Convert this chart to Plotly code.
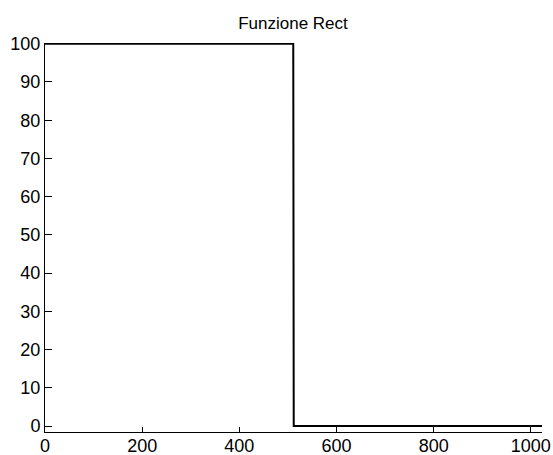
import plotly.graph_objects as go

# Rect function breakpoints (1024 samples: 100 for first half, 0 for second half)
x_vals = [0, 511, 512, 1023]
y_vals = [100, 100, 0, 0]
x_ticks = [0, 200, 400, 600, 800, 1000]
y_ticks = [0, 10, 20, 30, 40, 50, 60, 70, 80, 90, 100]
title_text = "Funzione Rect"

fig = go.Figure()
fig.add_trace(go.Scatter(x=x_vals, y=y_vals, mode="lines",
                         line=dict(color="black", width=2), showlegend=False,
                         hoverinfo="skip", cliponaxis=False))

font = dict(family="Arial, Liberation Sans, sans-serif", size=18, color="black")
fig.update_layout(
    width=553, height=455,
    margin=dict(l=45, r=11, t=43, b=23),
    paper_bgcolor="white", plot_bgcolor="white",
    font=font,
    title=dict(text=title_text, x=293 / 553, xanchor="center",
               y=1 - 23 / 455, yanchor="middle", font=dict(size=17),
               automargin=False),
    xaxis=dict(range=[0, 1023], tickvals=x_ticks, ticks="inside", ticklen=5,
               tickcolor="black", showgrid=False, zeroline=False,
               showline=True, linecolor="black", linewidth=1, tickfont=font,
               automargin=False, ticklabelstandoff=-3),
    yaxis=dict(range=[-1.57, 100.2], tickvals=y_ticks, ticks="inside", ticklen=7,
               tickcolor="black", showgrid=False, zeroline=False,
               showline=True, linecolor="black", linewidth=1, tickfont=font,
               automargin=False),
)
fig.write_html("out.html")
